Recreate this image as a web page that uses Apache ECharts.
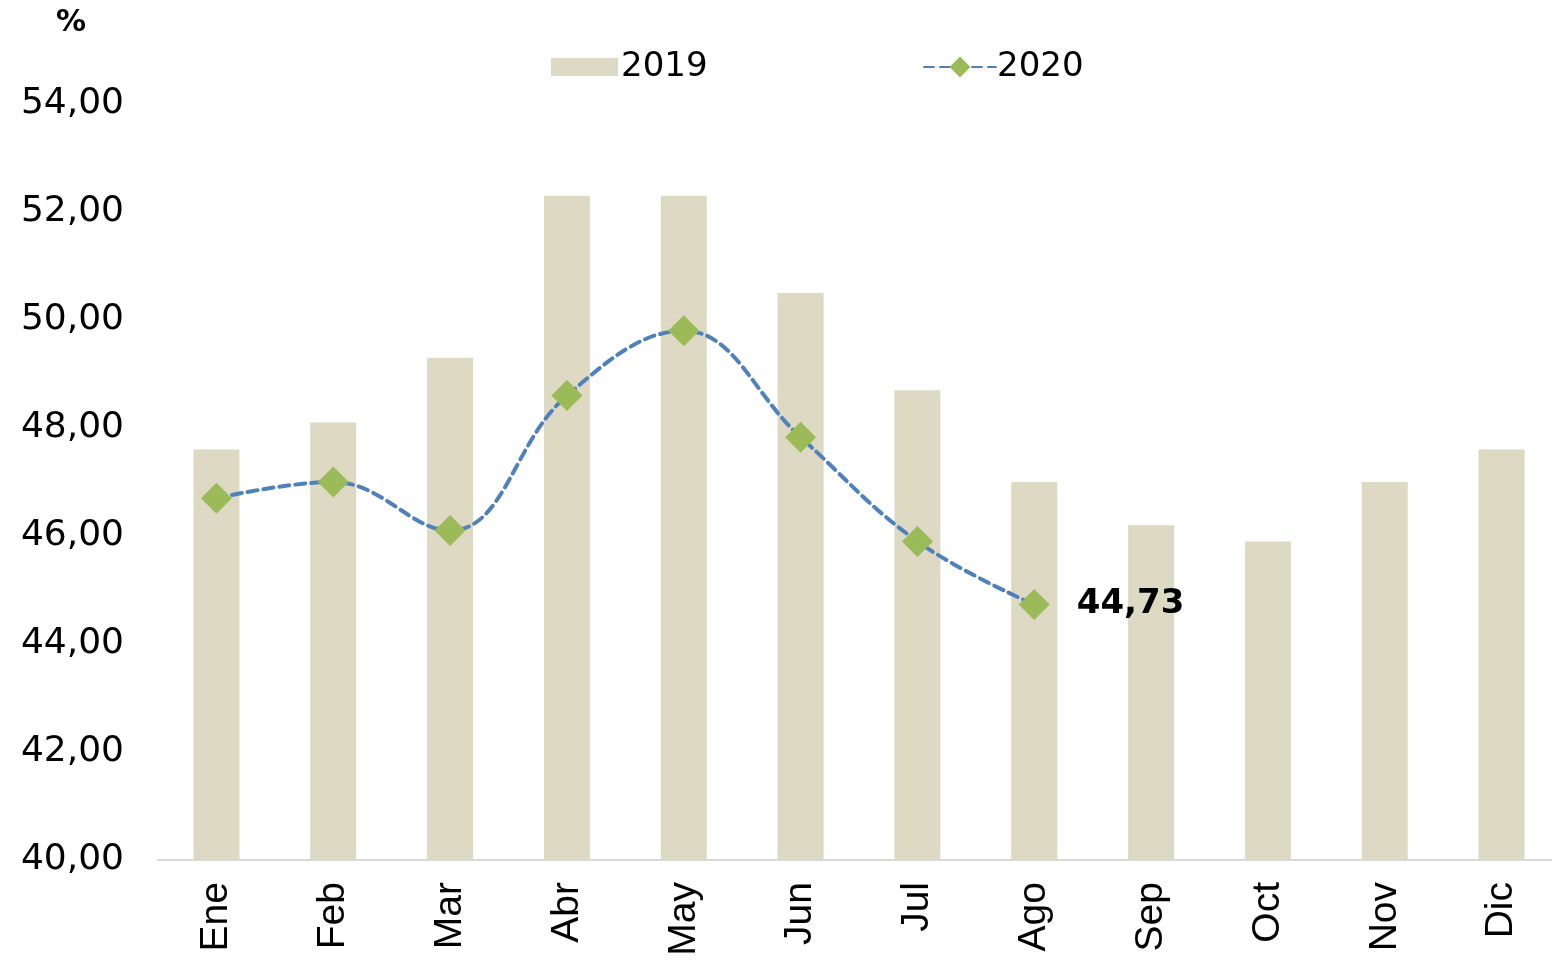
<!DOCTYPE html>
<html>
<head>
<meta charset="utf-8">
<script src="https://cdn.jsdelivr.net/npm/echarts@6/dist/echarts.min.js"></script>
<style>
html,body{margin:0;padding:0;background:#fff;overflow:hidden;}
#chart{width:1562px;height:966px;}
</style>
</head>
<body>
<div id="chart"></div>
<script>
const categories = ['Ene','Feb','Mar','Abr','May','Jun','Jul','Ago','Sep','Oct','Nov','Dic'];
const values2019 = [47.6, 48.1, 49.3, 52.3, 52.3, 50.5, 48.7, 47.0, 46.2, 45.9, 47.0, 47.6];
const values2020 = [46.7, 47.0, 46.1, 48.6, 49.8, 47.83, 45.9, 44.73];
const yTicks = {min: 40, max: 54, interval: 2};

const fmt = v => v.toFixed(2).replace('.', ',');

const chart = echarts.init(document.getElementById('chart'), null, {renderer: 'canvas'});
chart.setOption({
  animation: false,
  backgroundColor: '#ffffff',
  grid: {left: 158, right: 2, top: 104, bottom: 106, containLabel: false},
  graphic: [{
    type: 'text', left: 56, top: 8,
    style: {text: '%', font: 'bold 30px "DejaVu Sans"', fill: '#000'}
  }],
  legend: [
    {
      top: 45, left: 546,
      itemWidth: 67, itemHeight: 18, itemGap: 0,
      textStyle: {fontFamily: 'DejaVu Sans', fontSize: 34, color: '#000', padding: [0,0,0,-2]},
      data: [{name: '2019', icon: 'rect'}]
    },
    {
      top: 45, left: 918,
      itemWidth: 72, itemHeight: 26, itemGap: 0,
      textStyle: {fontFamily: 'DejaVu Sans', fontSize: 34, color: '#000', padding: [0,0,0,-4]},
      data: [{name: '2020'}]
    }
  ],
  xAxis: {
    type: 'category',
    data: categories,
    axisLine: {lineStyle: {color: '#d9d9d9', width: 2}},
    axisTick: {show: false},
    axisLabel: {rotate: 90, margin: 22, fontFamily: 'Liberation Sans', fontSize: 39, color: '#000'}
  },
  yAxis: {
    type: 'value',
    min: yTicks.min, max: yTicks.max, interval: yTicks.interval,
    splitLine: {show: false},
    axisLine: {show: false},
    axisTick: {show: false},
    axisLabel: {margin: 34, fontFamily: 'DejaVu Sans', fontSize: 36, color: '#000', formatter: v => fmt(v)}
  },
  series: [
    {
      name: '2019', type: 'bar', data: values2019,
      barWidth: 46,
      itemStyle: {color: '#ddd9c3'}
    },
    {
      name: '2020', type: 'line', data: values2020,
      smooth: 0.4,
      symbol: 'diamond', symbolSize: 31,
      lineStyle: {color: '#4f81bd', width: 4, type: [10, 6], cap: 'round'},
      itemStyle: {color: '#9bbb59', borderWidth: 0},
      label: {
        show: true, position: 'right', distance: 27,
        formatter: p => p.dataIndex === values2020.length - 1 ? fmt(p.value) : '',
        fontFamily: 'DejaVu Sans', fontWeight: 'bold', fontSize: 34, color: '#000'
      }
    }
  ]
});
</script>
</body>
</html>
